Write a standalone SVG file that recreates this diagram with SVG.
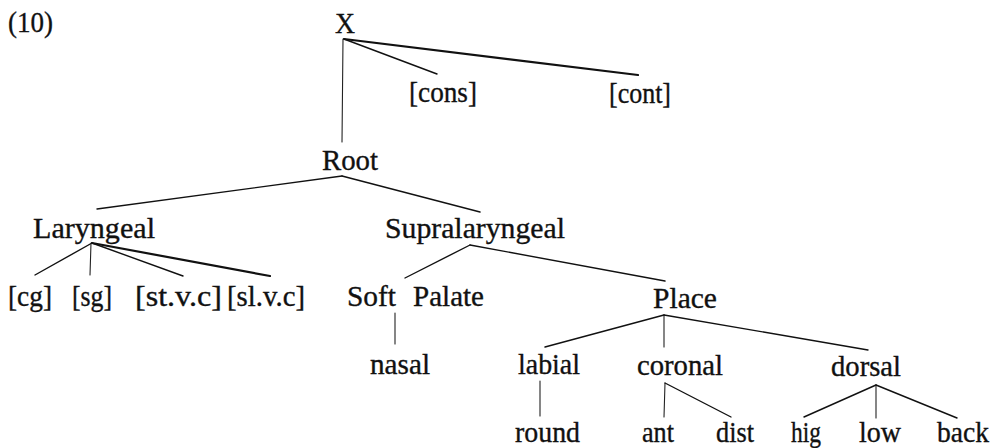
<svg xmlns="http://www.w3.org/2000/svg" width="994" height="448" viewBox="0 0 994 448">
  <style>
    text { font-family: "Liberation Serif", "Times New Roman", serif; font-size: 29px; fill: #111; stroke: #111; stroke-width: 0.35; }
    .edge { stroke: #111; stroke-width: 1.4; fill: none; stroke-linecap: round; }
    .heavy { stroke-width: 2.2; }
    .stem { stroke: #222; stroke-width: 1.1; }
  </style>
  <rect width="994" height="448" fill="#fff"/>

  <!-- example number -->
  <text id="label-10" x="8" y="32" textLength="45" lengthAdjust="spacingAndGlyphs">(10)</text>

  <!-- connectors -->
  <g id="connectors">
    <line class="edge" x1="344" y1="39" x2="437" y2="74"/>
    <line class="edge heavy" x1="344" y1="39" x2="638" y2="75"/>
    <line class="edge stem" x1="343" y1="39" x2="342" y2="142"/>

    <line class="edge" x1="342" y1="176" x2="97" y2="209"/>
    <line class="edge" x1="342" y1="176" x2="480" y2="212"/>

    <line class="edge" x1="92" y1="243" x2="35" y2="275"/>
    <line class="edge stem" x1="91" y1="243" x2="90" y2="275"/>
    <line class="edge" x1="92" y1="243" x2="183" y2="276"/>
    <line class="edge heavy" x1="92" y1="243" x2="270" y2="276"/>

    <line class="edge" x1="470" y1="245" x2="405" y2="278"/>
    <line class="edge" x1="470" y1="245" x2="665" y2="281"/>

    <line class="edge stem" x1="395" y1="313" x2="395" y2="344"/>

    <line class="edge" x1="664" y1="315" x2="545" y2="347"/>
    <line class="edge stem" x1="664" y1="315" x2="664" y2="347"/>
    <line class="edge" x1="664" y1="315" x2="868" y2="350"/>

    <line class="edge stem" x1="540" y1="381" x2="540" y2="416"/>

    <line class="edge stem" x1="665" y1="383" x2="664" y2="417"/>
    <line class="edge" x1="665" y1="383" x2="731" y2="417"/>

    <line class="edge" x1="876" y1="385" x2="804" y2="417"/>
    <line class="edge stem" x1="876" y1="385" x2="876" y2="418"/>
    <line class="edge" x1="876" y1="385" x2="957" y2="418"/>
  </g>

  <!-- nodes -->
  <g id="node-x"><text x="335" y="33" textLength="20" lengthAdjust="spacingAndGlyphs">X</text></g>
  <g id="node-cons"><text x="409" y="102" textLength="68" lengthAdjust="spacingAndGlyphs">[cons]</text></g>
  <g id="node-cont"><text x="609" y="103" textLength="62" lengthAdjust="spacingAndGlyphs">[cont]</text></g>
  <g id="node-root"><text x="322" y="170" textLength="56" lengthAdjust="spacingAndGlyphs">Root</text></g>

  <g id="node-laryngeal"><text x="33" y="238" textLength="122" lengthAdjust="spacingAndGlyphs">Laryngeal</text></g>
  <g id="node-supralaryngeal"><text x="385" y="238" textLength="180" lengthAdjust="spacingAndGlyphs">Supralaryngeal</text></g>

  <g id="node-cg"><text x="8" y="306" textLength="44" lengthAdjust="spacingAndGlyphs">[cg]</text></g>
  <g id="node-sg"><text x="72" y="306" textLength="40" lengthAdjust="spacingAndGlyphs">[sg]</text></g>
  <g id="node-stvc"><text x="135" y="306" textLength="87" lengthAdjust="spacingAndGlyphs">[st.v.c]</text></g>
  <g id="node-slvc"><text x="227" y="306" textLength="78" lengthAdjust="spacingAndGlyphs">[sl.v.c]</text></g>

  <g id="node-soft-palate">
    <text y="306"><tspan x="347" textLength="49" lengthAdjust="spacingAndGlyphs">Soft</tspan><tspan x="413" textLength="71" lengthAdjust="spacingAndGlyphs">Palate</tspan></text>
  </g>
  <g id="node-place"><text x="653" y="308" textLength="64" lengthAdjust="spacingAndGlyphs">Place</text></g>

  <g id="node-nasal"><text x="370" y="374" textLength="60" lengthAdjust="spacingAndGlyphs">nasal</text></g>
  <g id="node-labial"><text x="518" y="374" textLength="62" lengthAdjust="spacingAndGlyphs">labial</text></g>
  <g id="node-coronal"><text x="637" y="375" textLength="86" lengthAdjust="spacingAndGlyphs">coronal</text></g>
  <g id="node-dorsal"><text x="831" y="376" textLength="70" lengthAdjust="spacingAndGlyphs">dorsal</text></g>

  <g id="node-round"><text x="515" y="442" textLength="65" lengthAdjust="spacingAndGlyphs">round</text></g>
  <g id="node-ant"><text x="642" y="442" textLength="32" lengthAdjust="spacingAndGlyphs">ant</text></g>
  <g id="node-dist"><text x="716" y="442" textLength="38" lengthAdjust="spacingAndGlyphs">dist</text></g>
  <g id="node-hig"><text x="791" y="442" textLength="30" lengthAdjust="spacingAndGlyphs">hig</text></g>
  <g id="node-low"><text x="859" y="442" textLength="42" lengthAdjust="spacingAndGlyphs">low</text></g>
  <g id="node-back"><text x="937" y="442" textLength="52" lengthAdjust="spacingAndGlyphs">back</text></g>
</svg>
